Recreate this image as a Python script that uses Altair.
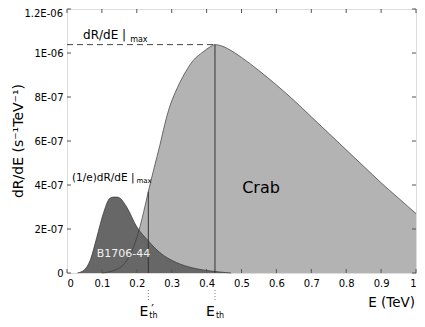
import altair as alt
import pandas as pd

# ---- data ----
crab_E = [0.10, 0.12, 0.14, 0.16, 0.18, 0.20, 0.22, 0.233, 0.25, 0.266, 0.28, 0.294, 0.31, 0.323,
          0.34, 0.361, 0.39, 0.41, 0.424, 0.44, 0.46, 0.50, 0.55, 0.60, 0.65, 0.70, 0.75, 0.80,
          0.85, 0.90, 0.95, 1.00]
crab_R = [0.0, 0.05, 0.15, 0.35, 0.8, 1.6, 2.8, 3.7, 4.8, 5.8, 6.75, 7.55, 8.2, 8.65,
          9.15, 9.65, 10.05, 10.28, 10.38, 10.34, 10.2, 9.8, 9.2, 8.55, 7.85, 7.1, 6.35, 5.6,
          4.85, 4.1, 3.4, 2.7]  # units of 1e-7

b17_E = [0.03, 0.05, 0.066, 0.085, 0.104, 0.123, 0.133, 0.143, 0.152, 0.171, 0.20, 0.233,
         0.266, 0.313, 0.361, 0.418, 0.47]
b17_R = [0.0, 0.15, 0.56, 1.6, 2.7, 3.4, 3.45, 3.45, 3.4, 3.0, 2.1, 1.46,
         0.93, 0.48, 0.23, 0.08, 0.0]  # units of 1e-7

E_th = 0.424
E_th_prime = 0.233
R_max = 10.38e-7
R_at_prime = 3.7e-7

x_ticks = [0, 0.1, 0.2, 0.3, 0.4, 0.5, 0.6, 0.7, 0.8, 0.9, 1.0]
y_ticks = [0, 2e-7, 4e-7, 6e-7, 8e-7, 1e-6, 1.2e-6]
y_tick_labels = ["0", "2E-07", "4E-07", "6E-07", "8E-07", "1E-06", "1.2E-06"]

W, H = 349, 264
FONT = "DejaVu Sans"

crab = pd.DataFrame({"E": crab_E, "R": [v * 1e-7 for v in crab_R]})
b17 = pd.DataFrame({"E": b17_E, "R": [v * 1e-7 for v in b17_R]})

xscale = alt.Scale(domain=[0, 1], nice=False, zero=False)
yscale = alt.Scale(domain=[0, 1.2e-6], nice=False)

label_expr = "[" + ",".join("'%s'" % s for s in y_tick_labels) + "][round(datum.value/2e-7)]"

X = lambda f="E": alt.X(f"{f}:Q", scale=xscale, title=None,
                        axis=alt.Axis(values=x_ticks, format=".1~f", tickSize=0, domain=False,
                                      grid=False, labelFont=FONT, labelFontSize=10,
                                      labelColor="black", labelPadding=5))
Y = lambda f="R": alt.Y(f"{f}:Q", scale=yscale, title=None,
                        axis=alt.Axis(values=y_ticks[:-1], labelExpr=label_expr, tickSize=0,
                                      domain=False, grid=False, labelFont=FONT, labelFontSize=10,
                                      labelColor="black", labelPadding=4))

crab_area = alt.Chart(crab).mark_area(color="#b3b3b3", interpolate="monotone").encode(x=X(), y=Y())
b17_area = alt.Chart(b17).mark_area(color="#676767", interpolate="monotone").encode(x=X(), y=Y())
crab_line = alt.Chart(crab).mark_line(color="#3a3a3a", strokeWidth=0.7, interpolate="monotone").encode(x=X(), y=Y())
b17_line = alt.Chart(b17).mark_line(color="#333333", strokeWidth=0.7, interpolate="monotone").encode(x=X(), y=Y())

vlines = pd.DataFrame({"E": [E_th_prime, E_th], "top": [R_at_prime, R_max], "bot": [0, 0]})
vrule = alt.Chart(vlines).mark_rule(color="#333333", strokeWidth=1).encode(
    x=X(), y=Y("bot"), y2="top:Q")

hline = pd.DataFrame({"E0": [0.0], "E1": [E_th], "R": [R_max]})
hrule = alt.Chart(hline).mark_rule(color="#444444", strokeWidth=1, strokeDash=[6, 4]).encode(
    x=X("E0"), x2="E1:Q", y=Y())

dots = alt.Chart(vlines).mark_rule(color="#777777", strokeWidth=1, strokeDash=[1, 2]).encode(
    x=X(), y=alt.value(281), y2=alt.value(291))

# inward ticks on all four sides
xt = pd.DataFrame({"E": x_ticks})
yt = pd.DataFrame({"R": y_ticks})
tick_color = "#555555"
tb = alt.Chart(xt).mark_rule(color=tick_color).encode(x=X(), y=alt.value(H), y2=alt.value(H - 4))
tt = alt.Chart(xt).mark_rule(color=tick_color).encode(x=X(), y=alt.value(0), y2=alt.value(4))
tl = alt.Chart(yt).mark_rule(color=tick_color).encode(y=Y(), x=alt.value(0), x2=alt.value(4))
tr = alt.Chart(yt).mark_rule(color=tick_color).encode(y=Y(), x=alt.value(W), x2=alt.value(W - 4))

# top y label (kept inside the page)
top_lab = alt.Chart(pd.DataFrame({"R": [y_ticks[-1]], "t": [y_tick_labels[-1]]})).mark_text(
    font=FONT, fontSize=10, align="right", baseline="middle", color="black", dx=-4, dy=5).encode(
    x=alt.value(0), y=Y(), text="t:N")

def label(text, E, R, size, align="left", baseline="alphabetic", color="black", dx=0):
    df = pd.DataFrame({"E": [E], "R": [R], "t": [text]})
    return alt.Chart(df).mark_text(font=FONT, fontSize=size, align=align, baseline=baseline,
                                   color=color, dx=dx).encode(x=X(), y=Y(), text="t:N")

def plabel(text, E, ypix, size, align="left", baseline="alphabetic", dx=0):
    df = pd.DataFrame({"E": [E], "t": [text]})
    return alt.Chart(df).mark_text(font=FONT, fontSize=size, align=align, baseline=baseline,
                                   color="black", dx=dx).encode(x=X(), y=alt.value(ypix), text="t:N")

texts = [
    label("dR/dE |", 0.046, 1.062e-6, 12),
    label("max", 0.181, 1.052e-6, 8),
    label("(1/e)dR/dE |", 0.014, 0.4165e-6, 10.5),
    label("max", 0.199, 0.4075e-6, 7),
    label("B1706-44", 0.162, 0.087e-6, 11, align="center", baseline="middle", color="#f2f2f2"),
    label("Crab", 0.556, 0.385e-6, 16, align="center", baseline="middle"),
    plabel("E", E_th_prime, 307, 14, align="right"),
    plabel("th", E_th_prime, 309, 8, dx=1),
    plabel("′", E_th_prime, 304, 12, dx=3),
    plabel("E", E_th, 307, 14, align="right"),
    plabel("th", E_th, 309, 8, dx=1),
]

xtitle = alt.Chart(pd.DataFrame({"t": ["E (TeV)"]})).mark_text(
    font=FONT, fontSize=13.5, align="right", baseline="middle", color="black").encode(
    x=alt.value(W - 1), y=alt.value(294), text="t:N")
ytitle = alt.Chart(pd.DataFrame({"t": ["dR/dE (s⁻¹TeV⁻¹)"]})).mark_text(
    font=FONT, fontSize=14, align="center", baseline="middle", color="black", angle=270).encode(
    x=alt.value(-48), y=alt.value(H / 2), text="t:N")

chart = alt.layer(
    crab_area, b17_area, crab_line, b17_line, vrule, hrule, dots,
    tb, tt, tl, tr, top_lab, *texts, xtitle, ytitle
).properties(
    width=W, height=H,
    autosize=alt.AutoSizeParams(type="none"),
    padding={"left": 59, "top": 1, "right": 1, "bottom": 50},
).configure_view(stroke="#555555", strokeWidth=1).configure(background="white")

chart.save("out.html", embed_options={"renderer": "svg", "actions": False})
